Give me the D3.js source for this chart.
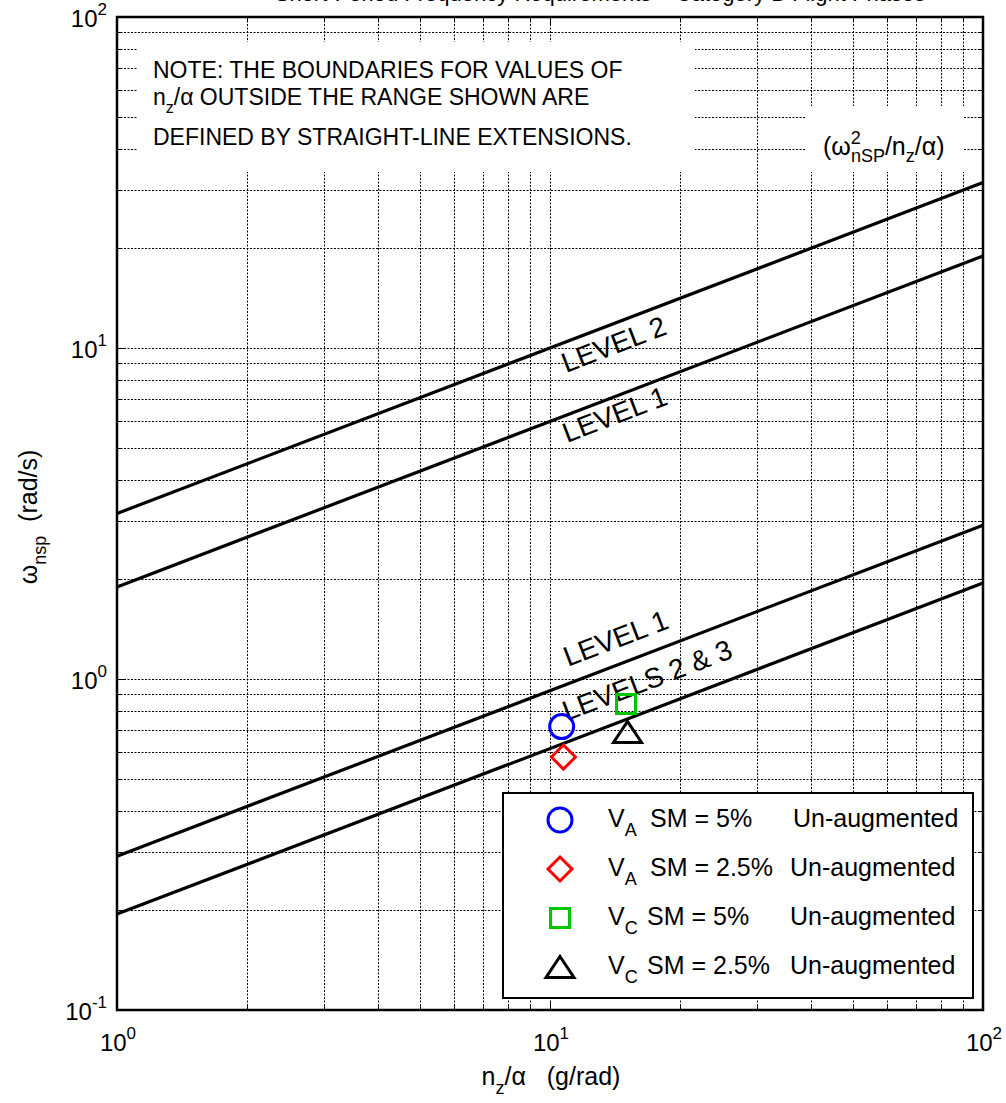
<!DOCTYPE html>
<html>
<head>
<meta charset="utf-8">
<script src="https://cdn.jsdelivr.net/npm/d3@7"></script>
<style>
  body { margin: 0; background: #fff; }
  svg { display: block; font-family: Arial, "Liberation Sans", Helvetica, sans-serif; }
</style>
</head>
<body>
<div id="chart"></div>
<script>
// axis decades
var xMajor = [1, 10, 100];
var yMajor = [0.1, 1, 10, 100];

// boundary lines: omega_nsp^2 / (n_z/alpha) = const
var boundaryRatio = [10, 3.6, 0.085, 0.038];
var boundaryLabels = ["LEVEL 2", "LEVEL 1", "LEVEL 1", "LEVELS 2 & 3"];

// test points
var pointSpeed = ["A", "A", "C", "C"];
var pointMargin = ["5%", "2.5%", "5%", "2.5%"];
var pointX = [10.64, 10.74, 14.98, 15.1];
var pointY = [0.718, 0.581, 0.84, 0.692];

var width = 1006, height = 1103;
var plot = { left: 117, right: 983, top: 17, bottom: 1010 };

var svg = d3.select("#chart").append("svg")
  .attr("width", width)
  .attr("height", height);

var x = d3.scaleLog().domain([1, 100]).range([plot.left, plot.right]);
var y = d3.scaleLog().domain([0.1, 100]).range([plot.bottom, plot.top]);

var xAll = x.ticks();
var yAll = y.ticks();

// title, cut off by the top edge as in the original figure
svg.append("text")
  .attr("x", 600).attr("y", 1)
  .attr("text-anchor", "middle")
  .attr("font-size", 22)
  .text("Short-Period Frequency Requirements \u2013 Category B Flight Phases");

// grid
var grid = svg.append("g")
  .attr("stroke", "#000")
  .attr("stroke-width", 1)
  .attr("stroke-dasharray", "2,1.5");

grid.selectAll("line.gx")
  .data(xAll.filter(function(d) { return d > 1 && d < 100; }))
  .enter().append("line")
  .attr("x1", function(d) { return Math.round(x(d)) + 0.5; })
  .attr("x2", function(d) { return Math.round(x(d)) + 0.5; })
  .attr("y1", plot.top)
  .attr("y2", plot.bottom);

grid.selectAll("line.gy")
  .data(yAll.filter(function(d) { return d > 0.1 && d < 100; }))
  .enter().append("line")
  .attr("y1", function(d) { return Math.round(y(d)) + 0.5; })
  .attr("y2", function(d) { return Math.round(y(d)) + 0.5; })
  .attr("x1", plot.left)
  .attr("x2", plot.right);

// white boxes that hide the grid behind the annotations
svg.append("rect")
  .attr("x", 138).attr("y", 42).attr("width", 557).attr("height", 130)
  .attr("fill", "#fff");
svg.append("rect")
  .attr("x", 806).attr("y", 106).attr("width", 158).attr("height", 66)
  .attr("fill", "#fff");

// note
var note = svg.append("g").attr("font-size", 23).attr("fill", "#000");
note.append("text").attr("x", 153).attr("y", 78)
  .text("NOTE: THE BOUNDARIES FOR VALUES OF");
var n2 = note.append("text").attr("x", 153).attr("y", 105);
n2.append("tspan").text("n");
n2.append("tspan").attr("dy", 8).attr("font-size", 16).text("z");
n2.append("tspan").attr("dy", -8).text("/\u03b1 OUTSIDE THE RANGE SHOWN ARE");
note.append("text").attr("x", 153).attr("y", 145)
  .text("DEFINED BY STRAIGHT-LINE EXTENSIONS.");

// ratio label
var rt = svg.append("text").attr("x", 823).attr("y", 155).attr("font-size", 25);
rt.append("tspan").text("(\u03c9");
rt.append("tspan").attr("dy", -11).attr("font-size", 18).text("2");
rt.append("tspan").attr("dx", -10).attr("dy", 18).attr("font-size", 18).text("nSP");
rt.append("tspan").attr("dy", -7).text("/n");
rt.append("tspan").attr("dy", 7).attr("font-size", 18).text("z");
rt.append("tspan").attr("dy", -7).text("/\u03b1)");

// boundary lines
function boundary(c) {
  return function(v) { return Math.sqrt(c * v); };
}
var line = d3.line()
  .x(function(d) { return x(d[0]); })
  .y(function(d) { return y(d[1]); });

svg.append("g").selectAll("path")
  .data(boundaryRatio)
  .enter().append("path")
  .attr("d", function(c) {
    var f = boundary(c);
    return line([[1, f(1)], [100, f(100)]]);
  })
  .attr("fill", "none")
  .attr("stroke", "#000")
  .attr("stroke-width", 3.2);

// labels along the lines: start pixel x, vertical offset from the line
var labelPlace = [
  { px: 566, off: 31 },
  { px: 567, off: 28 },
  { px: 568, off: -17 },
  { px: 567, off: -21 }
];
var ang = Math.atan2(y(Math.sqrt(100)) - y(Math.sqrt(1)), x(100) - x(1)) * 180 / Math.PI;

svg.append("g").selectAll("text")
  .data(boundaryLabels)
  .enter().append("text")
  .attr("font-size", 28)
  .attr("transform", function(d, i) {
    var p = labelPlace[i];
    var v = x.invert(p.px);
    var py = y(boundary(boundaryRatio[i])(v)) + p.off;
    return "translate(" + p.px + "," + py + ") rotate(" + ang + ")";
  })
  .text(function(d) { return d; });

// markers
var markerStyle = [
  { shape: "circle", color: "#0000ff" },
  { shape: "diamond", color: "#ff0000" },
  { shape: "square", color: "#00c800" },
  { shape: "triangle", color: "#000000" }
];

function markerPath(shape) {
  var p = d3.path();
  if (shape === "circle") {
    p.arc(0, 0, 12, 0, 2 * Math.PI);
  } else if (shape === "diamond") {
    p.moveTo(0, -12); p.lineTo(12, 0); p.lineTo(0, 12); p.lineTo(-12, 0); p.closePath();
  } else if (shape === "square") {
    p.rect(-9.5, -9.5, 19, 19);
  } else {
    p.moveTo(0, -10.5); p.lineTo(14, 10.5); p.lineTo(-14, 10.5); p.closePath();
  }
  return p.toString();
}

svg.append("g").selectAll("path")
  .data(pointX)
  .enter().append("path")
  .attr("transform", function(d, i) { return "translate(" + x(d) + "," + y(pointY[i]) + ")"; })
  .attr("d", function(d, i) { return markerPath(markerStyle[i].shape); })
  .attr("fill", "none")
  .attr("stroke", function(d, i) { return markerStyle[i].color; })
  .attr("stroke-width", 3);

// legend
var legend = svg.append("g");
legend.append("rect")
  .attr("x", 503).attr("y", 793).attr("width", 470).attr("height", 205)
  .attr("fill", "#fff").attr("stroke", "#000").attr("stroke-width", 2);

var rowY = [820, 869, 918, 967];
var rows = legend.selectAll("g.row")
  .data(pointSpeed)
  .enter().append("g")
  .attr("transform", function(d, i) { return "translate(0," + rowY[i] + ")"; });

rows.append("path")
  .attr("transform", "translate(560,0)")
  .attr("d", function(d, i) { return markerPath(markerStyle[i].shape); })
  .attr("fill", "none")
  .attr("stroke", function(d, i) { return markerStyle[i].color; })
  .attr("stroke-width", 3);

var lt = rows.append("text").attr("x", 608).attr("y", 7).attr("font-size", 25);
lt.append("tspan").text("V");
lt.append("tspan").attr("dy", 9).attr("font-size", 18).text(function(d) { return d; });
rows.append("text").attr("x", function(d) { return d === "A" ? 650 : 647; }).attr("y", 7)
  .attr("font-size", 25)
  .text(function(d, i) { return "SM = " + pointMargin[i]; });
rows.append("text").attr("x", function(d, i) { return i === 0 ? 793 : 790; }).attr("y", 7)
  .attr("font-size", 25)
  .text("Un-augmented");

// ticks (inward on all four sides)
var ticks = svg.append("g").attr("stroke", "#000").attr("stroke-width", 1);

xAll.forEach(function(d) {
  var px = Math.round(x(d)) + 0.5;
  var len = xMajor.indexOf(d) >= 0 ? 9 : 5;
  ticks.append("line").attr("x1", px).attr("x2", px).attr("y1", plot.bottom).attr("y2", plot.bottom - len);
  ticks.append("line").attr("x1", px).attr("x2", px).attr("y1", plot.top).attr("y2", plot.top + len);
});
yAll.forEach(function(d) {
  var py = Math.round(y(d)) + 0.5;
  var len = yMajor.indexOf(d) >= 0 ? 9 : 5;
  ticks.append("line").attr("y1", py).attr("y2", py).attr("x1", plot.left).attr("x2", plot.left + len);
  ticks.append("line").attr("y1", py).attr("y2", py).attr("x1", plot.right).attr("x2", plot.right - len);
});

// frame
svg.append("rect")
  .attr("x", plot.left).attr("y", plot.top)
  .attr("width", plot.right - plot.left).attr("height", plot.bottom - plot.top)
  .attr("fill", "none").attr("stroke", "#000").attr("stroke-width", 2.5);

// tick labels
function expOf(v) { return Math.round(Math.log10(v)); }

var xl = svg.append("g").selectAll("text")
  .data(xMajor)
  .enter().append("text")
  .attr("x", function(d) { return x(d) + 1; })
  .attr("y", 1051)
  .attr("text-anchor", "middle")
  .attr("font-size", 24);
xl.append("tspan").text("10");
xl.append("tspan").attr("dy", -12).attr("font-size", 17)
  .text(function(d) { return String(expOf(d)); });

var yl = svg.append("g").selectAll("text")
  .data(yMajor)
  .enter().append("text")
  .attr("x", 107)
  .attr("y", function(d) { return y(d) + 10; })
  .attr("text-anchor", "end")
  .attr("font-size", 24);
yl.append("tspan").text("10");
yl.append("tspan").attr("dy", -12).attr("font-size", 17)
  .text(function(d) { return String(expOf(d)); });

// axis titles
var xt = svg.append("text")
  .attr("x", 551).attr("y", 1085)
  .attr("text-anchor", "middle")
  .attr("font-size", 25);
xt.append("tspan").text("n");
xt.append("tspan").attr("dy", 9).attr("font-size", 18).text("z");
xt.append("tspan").attr("dy", -9).text("/\u03b1\u00a0\u00a0\u00a0(g/rad)");

var yt = svg.append("text")
  .attr("transform", "translate(37,517) rotate(-90)")
  .attr("text-anchor", "middle")
  .attr("font-size", 25);
yt.append("tspan").text("\u03c9");
yt.append("tspan").attr("dy", 9).attr("font-size", 18).text("nsp");
yt.append("tspan").attr("dy", -9).text("\u00a0\u00a0(rad/s)");
</script>
</body>
</html>
